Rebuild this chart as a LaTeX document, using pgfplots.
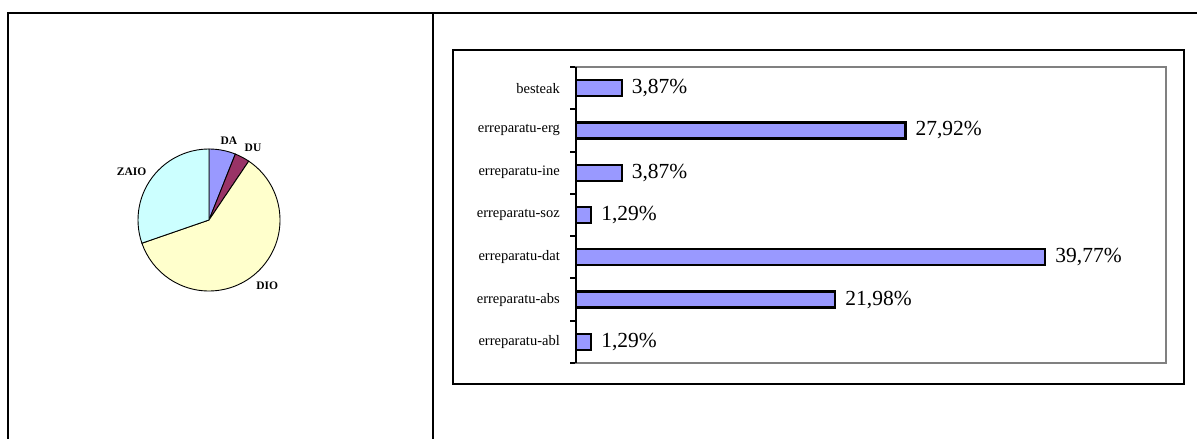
\documentclass[border=0pt]{standalone}
\usepackage{fontspec}
\setmainfont{Liberation Serif}
\usepackage{pgfplots}
\usepackage{pgfplotstable}
\pgfplotsset{compat=1.18}
\definecolor{barblue}{HTML}{9999FF}
\definecolor{pieDA}{HTML}{9999FF}
\definecolor{pieDU}{HTML}{993366}
\definecolor{pieDIO}{HTML}{FFFFCC}
\definecolor{pieZAIO}{HTML}{CCFFFF}
\definecolor{framegray}{HTML}{808080}

\pgfplotstableread{
y value
0 1.29
1 21.98
2 39.77
3 1.29
4 3.87
5 27.92
6 3.87
}\bardata

% pie shares (percent)
\def\pDA{6.05}
\def\pDU{3.4}
\def\pDIO{60.25}
\def\pZAIO{30.3}

\begin{document}
\begin{tikzpicture}
\useasboundingbox (0,0) rectangle (1197bp,439bp);
\draw[line width=2bp] (1197bp,426bp) -- (7.5bp,426bp) -- (7.5bp,0);
\draw[line width=2bp] (433bp,426bp) -- (433bp,0);
\draw[line width=2.8bp] (453bp,55bp) rectangle (1184bp,389bp);

\pgfmathsetmacro\aA{90}
\pgfmathsetmacro\aB{\aA-3.6*\pDA}
\pgfmathsetmacro\aC{\aB-3.6*\pDU}
\pgfmathsetmacro\aD{\aC-3.6*\pDIO}
\pgfmathsetmacro\aE{\aD-3.6*\pZAIO}

\begin{axis}[
  at={(138bp,148bp)}, anchor=south west,
  scale only axis, width=142bp, height=142bp,
  xmin=-1, xmax=1, ymin=-1, ymax=1,
  hide axis, clip=false,
]
\filldraw[fill=pieDA, draw=black, line width=0.9bp] (axis cs:0,0) -- ++(\aA:71bp) arc[start angle=\aA, end angle=\aB, radius=71bp] -- cycle;
\filldraw[fill=pieDU, draw=black, line width=0.9bp] (axis cs:0,0) -- ++(\aB:71bp) arc[start angle=\aB, end angle=\aC, radius=71bp] -- cycle;
\filldraw[fill=pieDIO, draw=black, line width=0.9bp] (axis cs:0,0) -- ++(\aC:71bp) arc[start angle=\aC, end angle=\aD, radius=71bp] -- cycle;
\filldraw[fill=pieZAIO, draw=black, line width=0.9bp] (axis cs:0,0) -- ++(\aD:71bp) arc[start angle=\aD, end angle=\aE, radius=71bp] -- cycle;
\node[font=\bfseries\fontsize{11.5bp}{13bp}\selectfont, inner sep=0pt] at (axis cs:0.28,1.11) {DA};
\node[font=\bfseries\fontsize{11.5bp}{13bp}\selectfont, inner sep=0pt] at (axis cs:0.62,1.01) {DU};
\node[font=\bfseries\fontsize{11.5bp}{13bp}\selectfont, inner sep=0pt] at (axis cs:-1.09,0.68) {ZAIO};
\node[font=\bfseries\fontsize{11.5bp}{13bp}\selectfont, inner sep=0pt] at (axis cs:0.82,-0.93) {DIO};
\end{axis}

\begin{axis}[
  at={(576bp,76bp)}, anchor=south west,
  scale only axis, width=590bp, height=296bp,
  xbar, bar width=16bp,
  xmin=0, xmax=50, ymin=-0.5, ymax=6.5,
  xtick=\empty,
  ytick={0,...,6},
  yticklabels={erreparatu-abl,erreparatu-abs,erreparatu-dat,erreparatu-soz,erreparatu-ine,erreparatu-erg,besteak},
  yticklabel style={font=\fontsize{14.5bp}{16bp}\selectfont, inner sep=0pt, xshift=-16bp},
  major tick length=0pt,
  minor ytick={-0.5,0.5,...,6.5},
  minor tick length=6bp,
  tick align=outside,
  ytick pos=left,
  minor tick style={black, line width=2bp},
  axis line style={framegray, line width=2bp},
  clip=false,
  point meta=x,
  nodes near coords={\pgfmathprintnumber{\pgfplotspointmeta}\%},
  nodes near coords style={font=\fontsize{21.5bp}{24bp}\selectfont, anchor=west, inner sep=0pt, xshift=9bp, black},
  /pgf/number format/.cd, use comma, fixed, fixed zerofill, precision=2, assume math mode=true,
]
\addplot[fill=barblue, draw=black, line width=2.2bp] table[x=value, y=y]{\bardata};
\draw[black, line width=2.2bp] (rel axis cs:0,0) -- (rel axis cs:0,1);
\end{axis}
\end{tikzpicture}
\end{document}
